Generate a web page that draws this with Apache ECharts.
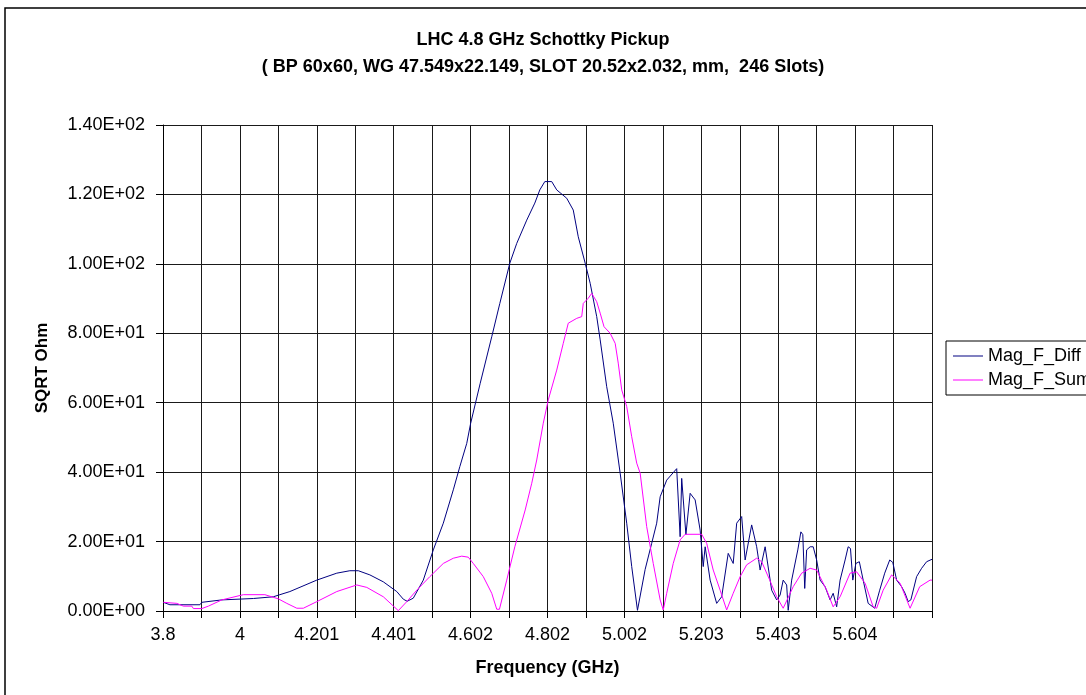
<!DOCTYPE html>
<html>
<head>
<meta charset="utf-8">
<script src="https://cdn.jsdelivr.net/npm/echarts@6/dist/echarts.min.js"></script>
<style>
  html, body { margin: 0; padding: 0; background: #fff; }
  #chart { width: 1086px; height: 695px; }
</style>
</head>
<body>
<div id="chart"></div>
<script>
// ---- Data ----
const xTickLabels = ['3.8', '', '4', '', '4.201', '', '4.401', '', '4.602', '', '4.802', '', '5.002', '', '5.203', '', '5.403', '', '5.604', '', ''];

const diffFreq = [3.801, 3.818, 3.896, 3.901, 3.953, 4.035, 4.087, 4.104, 4.130, 4.200, 4.252, 4.286, 4.308, 4.338, 4.373, 4.408, 4.425, 4.435, 4.451, 4.477, 4.503, 4.529, 4.555, 4.572, 4.590, 4.600, 4.625, 4.655, 4.676, 4.702, 4.720, 4.746, 4.767, 4.780, 4.793, 4.811, 4.824, 4.850, 4.867, 4.880, 4.898, 4.911, 4.928, 4.937, 4.954, 4.971, 4.989, 5.006, 5.019, 5.034, 5.054, 5.071, 5.084, 5.093, 5.110, 5.136, 5.145, 5.149, 5.160, 5.171, 5.184, 5.197, 5.205, 5.210, 5.223, 5.240, 5.253, 5.270, 5.283, 5.292, 5.305, 5.314, 5.331, 5.344, 5.353, 5.366, 5.383, 5.396, 5.405, 5.413, 5.422, 5.426, 5.435, 5.451, 5.459, 5.464, 5.469, 5.474, 5.483, 5.491, 5.500, 5.509, 5.522, 5.535, 5.543, 5.552, 5.561, 5.574, 5.582, 5.588, 5.594, 5.602, 5.611, 5.621, 5.634, 5.651, 5.664, 5.677, 5.690, 5.698, 5.708, 5.721, 5.730, 5.738, 5.745, 5.760, 5.773, 5.786, 5.800];
const diffValues = [2.5, 1.8, 1.8, 2.5, 3.2, 3.6, 4.1, 4.7, 5.6, 8.9, 10.9, 11.6, 11.6, 10.4, 8.4, 5.6, 3.4, 2.8, 3.7, 8.9, 17.6, 25.3, 34.9, 41.6, 48.3, 54.0, 65.6, 79.0, 88.6, 100.2, 105.9, 112.6, 117.5, 121.3, 123.7, 123.7, 121.3, 118.9, 115.5, 107.8, 100.2, 94.4, 84.8, 78.1, 64.6, 54.1, 39.7, 25.3, 12.8, 0.2, 12.0, 19.5, 25.3, 32.9, 37.7, 41.0, 21.4, 38.2, 22.0, 33.9, 32.0, 23.3, 12.8, 18.5, 8.9, 2.2, 4.1, 16.6, 13.7, 25.3, 27.2, 14.7, 24.8, 18.5, 11.8, 18.5, 6.0, 3.2, 4.6, 8.9, 7.5, 0.2, 8.9, 17.6, 22.8, 22.0, 6.5, 17.6, 18.5, 18.5, 14.7, 8.9, 7.0, 3.2, 5.1, 1.2, 8.9, 14.7, 18.5, 18.0, 8.9, 13.7, 14.2, 8.9, 2.2, 0.8, 6.0, 10.9, 14.7, 14.0, 8.9, 7.0, 5.1, 2.7, 3.2, 9.9, 12.3, 14.2, 14.9];

const sumFreq = [3.801, 3.836, 3.853, 3.875, 3.879, 3.901, 3.918, 3.953, 4.009, 4.065, 4.100, 4.122, 4.148, 4.165, 4.200, 4.252, 4.304, 4.330, 4.373, 4.412, 4.434, 4.460, 4.494, 4.529, 4.555, 4.577, 4.594, 4.607, 4.633, 4.655, 4.668, 4.675, 4.694, 4.715, 4.742, 4.759, 4.772, 4.789, 4.802, 4.824, 4.841, 4.854, 4.876, 4.889, 4.893, 4.906, 4.915, 4.928, 4.937, 4.947, 4.963, 4.976, 4.984, 4.993, 5.006, 5.019, 5.032, 5.041, 5.058, 5.075, 5.093, 5.101, 5.110, 5.127, 5.145, 5.158, 5.201, 5.214, 5.231, 5.249, 5.266, 5.283, 5.301, 5.318, 5.344, 5.357, 5.378, 5.396, 5.413, 5.439, 5.461, 5.483, 5.500, 5.526, 5.543, 5.561, 5.587, 5.604, 5.626, 5.647, 5.656, 5.673, 5.695, 5.717, 5.743, 5.768, 5.795, 5.800];
const sumValues = [2.5, 2.2, 1.4, 1.4, 0.7, 0.7, 1.4, 3.2, 4.7, 4.7, 3.5, 2.2, 0.8, 0.8, 2.7, 5.6, 7.5, 6.8, 4.1, 0.1, 2.7, 6.0, 9.9, 13.7, 15.2, 15.8, 15.5, 13.7, 9.9, 5.1, 0.5, 0.5, 8.9, 18.5, 29.1, 36.8, 43.5, 54.1, 60.8, 69.4, 77.1, 82.9, 84.3, 84.8, 88.6, 90.1, 91.5, 89.1, 85.8, 81.9, 80.0, 77.1, 71.4, 63.7, 58.9, 50.2, 42.6, 39.7, 24.3, 13.7, 3.2, 0.3, 5.1, 13.7, 20.5, 22.1, 22.1, 19.5, 11.8, 6.0, 0.3, 5.1, 9.9, 13.3, 15.2, 14.2, 8.9, 4.1, 0.8, 7.0, 10.9, 12.3, 11.8, 6.0, 1.2, 4.1, 10.9, 11.3, 8.0, 1.2, 0.8, 6.0, 10.4, 8.0, 0.8, 7.0, 8.9, 8.9];

const seriesNames = ['Mag_F_Diff', 'Mag_F_Sum'];

// ---- Build ----
const zip = (xs, ys) => xs.map((x, i) => [x, ys[i]]);
const FONT = "'Liberation Sans', Arial, sans-serif";

function sci(v) {
  const s = Number(v).toExponential(2);           // e.g. 1.40e+2
  const m = s.match(/^(-?[\d.]+)e([+-])(\d+)$/);
  if (!m) return s;
  return m[1] + 'E' + m[2] + (m[3].length < 2 ? '0' + m[3] : m[3]);
}

const chart = echarts.init(document.getElementById('chart'), null, { renderer: 'canvas' });

const option = {
  backgroundColor: '#ffffff',
  animation: false,
  textStyle: { fontFamily: FONT },
  graphic: [{
    type: 'rect',
    shape: { x: 5, y: 8, width: 1300, height: 900 },
    style: { fill: 'none', stroke: '#000', lineWidth: 1.5 },
    silent: true, z: 0
  }],
  title: {
    text: 'LHC 4.8 GHz Schottky Pickup\n( BP 60x60, WG 47.549x22.149, SLOT 20.52x2.032, mm,  246 Slots)',
    left: 'center',
    top: 22,
    textStyle: { fontFamily: FONT, fontSize: 18, fontWeight: 'bold', color: '#000', lineHeight: 27 }
  },
  legend: {
    data: seriesNames,
    orient: 'vertical',
    left: 946,
    top: 341,
    padding: [6, 80, 6, 7],
    itemWidth: 30,
    itemHeight: 14,
    itemGap: 6,
    borderColor: '#000',
    borderWidth: 1,
    backgroundColor: '#fff',
    icon: 'path://M0,0 L30,0 L30,1 L0,1 Z',
    textStyle: { fontFamily: FONT, fontSize: 18, color: '#000' }
  },
  grid: { left: 163, right: 154, top: 125, bottom: 84, containLabel: false },
  xAxis: {
    type: 'value',
    min: 3.8,
    max: 5.8,
    interval: 0.1,
    name: 'Frequency (GHz)',
    nameLocation: 'middle',
    nameGap: 48,
    nameTextStyle: { fontFamily: FONT, fontSize: 18, fontWeight: 'bold', color: '#000' },
    axisLine: { show: true, lineStyle: { color: '#000', width: 1 } },
    axisTick: { show: true, length: 7, lineStyle: { color: '#000' } },
    axisLabel: {
      fontFamily: FONT, fontSize: 18, color: '#000', margin: 15,
      showMinLabel: true, showMaxLabel: true, hideOverlap: false,
      formatter: function (v) {
        const i = Math.round((v - 3.8) / 0.1);
        return xTickLabels[i] !== undefined ? xTickLabels[i] : '';
      }
    },
    splitLine: { show: true, lineStyle: { color: '#1a1a1a', width: 1 } }
  },
  yAxis: {
    type: 'value',
    min: 0,
    max: 140,
    interval: 20,
    name: 'SQRT Ohm',
    nameLocation: 'middle',
    nameGap: 112,
    nameTextStyle: { fontFamily: FONT, fontSize: 17, fontWeight: 'bold', color: '#000' },
    axisLine: { show: true, lineStyle: { color: '#000', width: 1 } },
    axisTick: { show: true, length: 7, lineStyle: { color: '#000' } },
    axisLabel: { fontFamily: FONT, fontSize: 18, color: '#000', margin: 18, formatter: sci },
    splitLine: { show: true, lineStyle: { color: '#1a1a1a', width: 1 } }
  },
  series: [
    {
      name: seriesNames[0],
      type: 'line',
      data: zip(diffFreq, diffValues),
      showSymbol: false,
      symbol: 'none',
      lineStyle: { color: '#000080', width: 1 },
      itemStyle: { color: '#000080' },
      z: 3
    },
    {
      name: seriesNames[1],
      type: 'line',
      data: zip(sumFreq, sumValues),
      showSymbol: false,
      symbol: 'none',
      lineStyle: { color: '#ff00ff', width: 1 },
      itemStyle: { color: '#ff00ff' },
      z: 4
    }
  ]
};

chart.setOption(option);
</script>
</body>
</html>
